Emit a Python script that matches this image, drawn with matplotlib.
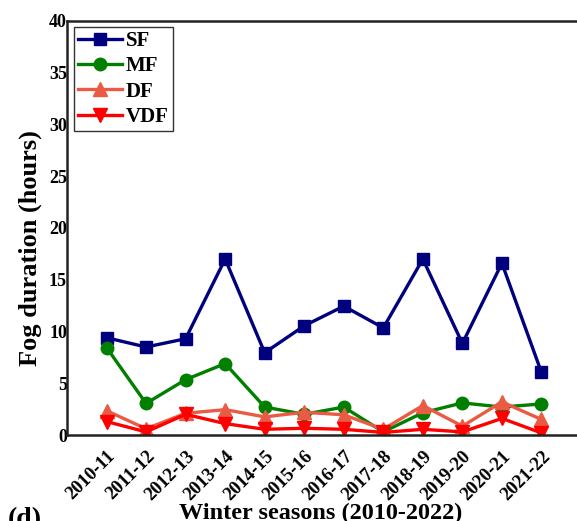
import matplotlib
matplotlib.use("Agg")
import matplotlib.pyplot as plt
import matplotlib.transforms as mtransforms
import numpy as np

# Winter fog durations by season
seasons = ["2010-11", "2011-12", "2012-13", "2013-14", "2014-15", "2015-16",
           "2016-17", "2017-18", "2018-19", "2019-20", "2020-21", "2021-22"]
sf = [9.4, 8.5, 9.3, 17.0, 7.95, 10.55, 12.45, 10.35, 17.0, 8.85, 16.6, 6.05]
mf = [8.45, 3.05, 5.35, 6.9, 2.7, 2.0, 2.7, 0.3, 2.15, 3.1, 2.7, 3.0]
df = [2.35, 0.6, 2.1, 2.45, 1.75, 2.2, 1.95, 0.55, 2.85, 0.85, 3.2, 1.5]
vdf = [1.3, 0.3, 2.0, 1.1, 0.55, 0.65, 0.55, 0.25, 0.55, 0.3, 1.6, 0.2]

plt.rcParams["font.family"] = ["Liberation Serif", "DejaVu Serif"]
plt.rcParams["font.weight"] = "bold"

fig = plt.figure(figsize=(5.77, 5.21), dpi=100)
W, H = 577, 521
ax = fig.add_axes([67 / W, 1 - 435 / H, (581 - 67) / W, (435 - 21) / H])

x = np.arange(len(seasons))
lw = 2.4
ax.plot(x, sf, color="#00007F", lw=lw, marker="s", ms=8.8, label="SF")
ax.plot(x, mf, color="#007F00", lw=lw, marker="o", ms=9.0, label="MF")
ax.plot(x, df, color="#EA5B45", lw=lw, marker="^", ms=10, label="DF")
ax.plot(x, vdf, color="#FF0000", lw=lw, marker="v", ms=10, label="VDF")

ax.set_xlim(-1, 12)
ax.set_ylim(0, 40)
ax.set_yticks(np.arange(0, 41, 5))
ax.set_xticks(x)
ax.set_xticklabels(seasons, rotation=45, ha="right", rotation_mode="anchor",
                   fontsize=13.5, fontweight="bold")
shift = mtransforms.ScaledTranslation(6 / 100, 0, fig.dpi_scale_trans)
for lab in ax.get_xticklabels():
    lab.set_transform(lab.get_transform() + shift)
for lab in ax.get_yticklabels():
    lab.set_fontsize(13)
    lab.set_fontweight("bold")
ax.tick_params(axis="y", length=0, pad=0)
ax.tick_params(axis="x", length=0, pad=9)

for s in ["left", "bottom", "top"]:
    ax.spines[s].set_linewidth(1.8)
    ax.spines[s].set_color("#222222")
ax.spines["right"].set_visible(False)

ax.set_ylabel("Fog duration (hours)", fontsize=19, fontweight="bold")
ax.yaxis.set_label_coords(-25 / 514, (435 - 248) / 414)

ax.set_xlabel("Winter seasons (2010-2022)", fontsize=17.5, fontweight="bold")
ax.xaxis.set_label_coords((321 - 67) / 514, (435 - 503) / 414)

leg = ax.legend(loc="upper left", bbox_to_anchor=(7 / 514, 1 - 6 / 414), fontsize=15,
                frameon=True, fancybox=False, edgecolor="black", handlelength=2.1,
                handletextpad=0.2, borderpad=0.2, labelspacing=0.25, borderaxespad=0)
leg.get_frame().set_linewidth(1.0)
for t in leg.get_texts():
    t.set_fontweight("bold")

fig.text(8 / W, 1 - 507 / H, "(d)", fontsize=20, fontweight="bold", va="top")

fig.savefig("out.png", dpi=100)
